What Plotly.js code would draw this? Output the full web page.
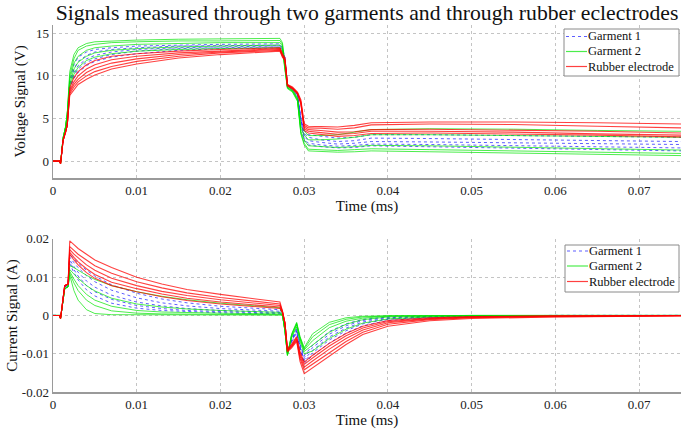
<!DOCTYPE html>
<html>
<head>
<meta charset="utf-8">
<script src="https://cdn.plot.ly/plotly-3.0.1.min.js"></script>
<style>html,body{margin:0;padding:0;background:#fff;}#chart{width:685px;height:433px;}</style>
</head>
<body>
<div id="chart"></div>
<script>
// ---------- DATA ----------
const seriesNames = ["Garment 1", "Garment 2", "Rubber electrode"];

// Voltage time base (ms axis units as in reference)
const tVoltage = [0, 0.0008, 0.0009, 0.0012, 0.0015, 0.0017, 0.002, 0.0025, 0.003, 0.004, 0.005, 0.007, 0.01, 0.015, 0.02, 0.0271,
  0.0274, 0.0277, 0.0280, 0.0286, 0.0292, 0.0296, 0.0300, 0.0305, 0.032, 0.034, 0.036, 0.038, 0.045, 0.055, 0.065, 0.075];

// Garment 1 voltage curves (V)
const vGarment1 = [
  [0,0,-0.3,2.5,3.6,4.6, 9.5,11.3,12.2,12.8,13.1,13.3,13.5,13.6,13.7,13.75, 13.3,12.2,8.9,8.5,7.8,5.0,3.6, 3.1, 2.9,2.7,2.8,3.1,3.1,3.0,2.9,2.8],
  [0,0,-0.3,2.5,3.6,4.6, 9.2,10.8,11.7,12.4,12.8,13.1,13.3,13.5,13.55,13.6, 13.2,12.1,8.9,8.5,7.8,5.0,3.3, 2.8, 2.5,2.3,2.4,2.7,2.65,2.55,2.45,2.3],
  [0,0,-0.3,2.5,3.6,4.6, 9.0,10.4,11.2,12.0,12.4,12.8,13.1,13.3,13.4,13.5, 13.1,12.0,8.8,8.4,7.7,4.9,2.9, 2.4, 2.2,2.0,2.1,2.3,2.25,2.15,2.05,1.95],
  [0,0,-0.3,2.5,3.6,4.6, 8.7,10.0,10.8,11.6,12.0,12.5,12.9,13.2,13.3,13.4, 13.0,11.9,8.8,8.4,7.7,4.8,2.6, 2.1, 1.9,1.75,1.85,2.0,1.95,1.8,1.7,1.55],
  [0,0,-0.3,2.5,3.6,4.6, 8.5,9.7,10.4,11.2,11.7,12.2,12.6,13.0,13.2,13.3, 12.9,11.8,8.7,8.3,7.6,4.7,2.4, 1.9, 1.7,1.55,1.6,1.8,1.7,1.5,1.35,1.2]
];

// Garment 2 voltage curves (V)
const vGarment2 = [
  [0,0,-0.3,2.7,4.0,5.5, 10.5,12.5,13.3,13.8,14.0,14.1,14.2,14.3,14.35,14.4, 13.9,11.0,8.8,8.4,7.4,4.0,3.6, 3.0, 3.0,3.1,3.4,3.7,3.8,3.75,3.6,3.5],
  [0,0,-0.3,2.7,4.0,5.5, 10.0,12.0,13.0,13.5,13.7,13.9,14.0,14.1,14.1,14.15, 13.7,11.0,8.7,8.3,7.3,3.8,3.1, 2.5, 2.5,2.6,2.8,3.1,3.1,3.0,2.9,2.8],
  [0,0,-0.3,2.7,4.0,5.5, 9.5,11.5,12.3,13.0,13.3,13.5,13.7,13.8,13.9,13.9, 13.5,10.9,8.6,8.2,7.2,3.5,2.5, 1.8, 1.7,1.6,1.7,1.85,1.8,1.65,1.5,1.3],
  [0,0,-0.3,2.7,4.0,5.5, 9.0,10.8,11.6,12.3,12.7,13.0,13.2,13.4,13.5,13.6, 13.2,10.8,8.6,8.2,7.1,3.3,2.1, 1.4, 1.3,1.25,1.35,1.45,1.35,1.2,1.05,0.9],
  [0,0,-0.3,2.7,4.0,5.5, 8.7,10.2,11.0,11.8,12.2,12.6,12.9,13.1,13.2,13.3, 12.9,10.7,8.5,8.1,7.0,3.2,1.9, 1.2, 1.1,1.05,1.1,1.2,1.1,0.95,0.8,0.65]
];

// Rubber electrode voltage curves (V)
const vRubber = [
  [0,0,-0.3,2.4,3.4,4.2, 8.6,9.8,10.5,11.3,11.8,12.3,12.6,12.9,13.1,13.3, 12.6,12.1,9.0,8.7,8.1,7.2,4.4, 4.1, 4.05,4.0,4.2,4.5,4.6,4.6,4.5,4.35],
  [0,0,-0.3,2.4,3.4,4.2, 8.3,9.3,10.0,10.8,11.3,11.9,12.3,12.7,12.9,13.2, 12.5,12.0,9.0,8.6,8.0,7.0,4.2, 3.9, 3.85,3.75,3.9,4.25,4.35,4.3,4.1,3.9],
  [0,0,-0.3,2.4,3.4,4.2, 8.1,9.0,9.6,10.4,10.9,11.5,12.0,12.5,12.8,13.1, 12.4,11.9,8.9,8.6,8.0,6.9,4.0, 3.7, 3.6,3.4,3.45,3.7,3.75,3.65,3.5,3.3],
  [0,0,-0.3,2.4,3.4,4.2, 7.9,8.7,9.3,10.0,10.5,11.1,11.7,12.3,12.7,13.0, 12.3,11.8,8.9,8.5,7.9,6.8,3.8, 3.5, 3.35,3.15,3.25,3.5,3.5,3.4,3.2,3.05],
  [0,0,-0.3,2.4,3.4,4.2, 7.7,8.4,9.0,9.6,10.1,10.8,11.4,12.1,12.5,12.9, 12.2,11.8,8.8,8.5,7.9,6.7,3.6, 3.3, 3.15,2.9,3.0,3.25,3.3,3.2,3.05,2.85]
];

// Current time base
const tCurrent = [0, 0.0008, 0.0009, 0.0012, 0.0014, 0.0018, 0.0020, 0.0025, 0.003, 0.004, 0.005, 0.007, 0.01, 0.013, 0.016, 0.02, 0.0271,
  0.0274, 0.0277, 0.0280, 0.0285, 0.0291, 0.0295, 0.0300, 0.031, 0.033, 0.035, 0.037, 0.04, 0.045, 0.05, 0.06, 0.075];

// Garment 1 current curves (A)
const iGarment1 = [
  [0,0,-0.0008,0.005,0.0075,0.008, 0.0160, 0.0148,0.0137,0.0118,0.0103,0.0080,0.0058,0.0043,0.0033,0.0024,0.0015, 0.0005,-0.003,-0.0095,-0.0070,-0.0045,-0.0088, -0.0125,-0.0105,-0.0072,-0.0046,-0.0027,-0.0013,-0.0006,-0.0003,-0.0001,0],
  [0,0,-0.0008,0.005,0.0075,0.008, 0.0152, 0.0138,0.0125,0.0104,0.0088,0.0066,0.0046,0.0033,0.0025,0.0018,0.0011, 0.0004,-0.003,-0.0095,-0.0068,-0.0042,-0.0085, -0.0120,-0.0098,-0.0064,-0.0040,-0.0022,-0.0010,-0.0005,-0.0002,-0.0001,0],
  [0,0,-0.0008,0.005,0.0075,0.008, 0.0145, 0.0128,0.0113,0.0090,0.0074,0.0053,0.0035,0.0025,0.0018,0.0013,0.0008, 0.0004,-0.003,-0.0096,-0.0066,-0.0040,-0.0082, -0.0115,-0.0091,-0.0056,-0.0033,-0.0017,-0.0008,-0.0004,-0.0001,0,0],
  [0,0,-0.0008,0.005,0.0075,0.008, 0.0140, 0.0120,0.0103,0.0078,0.0062,0.0042,0.0026,0.0018,0.0013,0.0010,0.0006, 0.0003,-0.003,-0.0097,-0.0064,-0.0037,-0.0078, -0.0110,-0.0084,-0.0049,-0.0027,-0.0013,-0.0006,-0.0002,-0.0001,0,0],
  [0,0,-0.0008,0.005,0.0075,0.008, 0.0135, 0.0112,0.0093,0.0067,0.0051,0.0032,0.0019,0.0013,0.0010,0.0007,0.0004, 0.0002,-0.003,-0.0098,-0.0062,-0.0035,-0.0075, -0.0105,-0.0078,-0.0042,-0.0022,-0.0010,-0.0004,-0.0002,-0.0001,0,0]
];

// Garment 2 current curves (A)
const iGarment2 = [
  [0,0,-0.0008,0.004,0.007,0.0075, 0.0130, 0.0125,0.0118,0.0105,0.0094,0.0078,0.0062,0.0050,0.0041,0.0032,0.0020, 0.0003,-0.004,-0.0100,-0.0058,-0.0030,-0.0068, -0.0100,-0.0093,-0.0060,-0.0036,-0.0020,-0.0009,-0.0004,-0.0002,-0.0001,0],
  [0,0,-0.0008,0.004,0.007,0.0075, 0.0120, 0.0108,0.0097,0.0078,0.0064,0.0045,0.0030,0.0022,0.0017,0.0013,0.0008, 0.0002,-0.004,-0.0102,-0.0055,-0.0025,-0.0062, -0.0094,-0.0078,-0.0044,-0.0023,-0.0011,-0.0004,-0.0002,-0.0001,0,0],
  [0,0,-0.0008,0.004,0.007,0.0075, 0.0115, 0.0095,0.0078,0.0055,0.0040,0.0024,0.0013,0.0009,0.0007,0.0006,0.0004, 0.0002,-0.004,-0.0103,-0.0052,-0.0022,-0.0060, -0.0090,-0.0066,-0.0032,-0.0015,-0.0007,-0.0002,-0.0001,0,0,0],
  [0,0,-0.0008,0.004,0.007,0.0075, 0.0110, 0.0085,0.0065,0.0040,0.0026,0.0012,0.0006,0.0004,0.0003,0.0003,0.0002, 0.0001,-0.004,-0.0104,-0.0050,-0.0020,-0.0057, -0.0087,-0.0056,-0.0024,-0.0010,-0.0004,-0.0001,0,0,0,0],
  [0,0,-0.0008,0.004,0.007,0.0075, 0.0105, 0.0065,0.0040,0.0015,0.0005,0.0002,0.0002,0.0002,0.0001,0.0001,0.0001, 0.0001,-0.004,-0.0105,-0.0048,-0.0018,-0.0055, -0.0084,-0.0048,-0.0018,-0.0006,-0.0002,-0.0001,0,0,0,0]
];

// Rubber electrode current curves (A)
const iRubber = [
  [0,0,-0.0008,0.005,0.0078,0.0082, 0.0195, 0.0185,0.0175,0.0160,0.0145,0.0125,0.0100,0.0082,0.0068,0.0055,0.0035, 0.0012,-0.002,-0.0095,-0.0085,-0.0068,-0.0120, -0.0152,-0.0137,-0.0106,-0.0076,-0.0050,-0.0028,-0.0014,-0.0008,-0.0004,-0.0001],
  [0,0,-0.0008,0.005,0.0078,0.0082, 0.0180, 0.0170,0.0160,0.0145,0.0130,0.0110,0.0088,0.0072,0.0059,0.0047,0.0030, 0.0011,-0.002,-0.0093,-0.0082,-0.0065,-0.0112, -0.0142,-0.0127,-0.0097,-0.0068,-0.0044,-0.0023,-0.0011,-0.0006,-0.0003,-0.0001],
  [0,0,-0.0008,0.005,0.0078,0.0082, 0.0172, 0.0160,0.0150,0.0132,0.0118,0.0097,0.0078,0.0063,0.0052,0.0041,0.0026, 0.0010,-0.002,-0.0091,-0.0080,-0.0062,-0.0106, -0.0135,-0.0119,-0.0088,-0.0060,-0.0038,-0.0019,-0.0009,-0.0005,-0.0002,0],
  [0,0,-0.0008,0.005,0.0078,0.0082, 0.0165, 0.0152,0.0140,0.0122,0.0107,0.0087,0.0070,0.0056,0.0045,0.0035,0.0022, 0.0009,-0.002,-0.0090,-0.0078,-0.0058,-0.0100, -0.0128,-0.0111,-0.0080,-0.0053,-0.0033,-0.0016,-0.0008,-0.0004,-0.0001,0],
  [0,0,-0.0008,0.005,0.0078,0.0082, 0.0160, 0.0145,0.0132,0.0112,0.0097,0.0078,0.0062,0.0049,0.0039,0.0030,0.0018, 0.0008,-0.002,-0.0088,-0.0075,-0.0055,-0.0095, -0.0122,-0.0104,-0.0073,-0.0047,-0.0028,-0.0013,-0.0006,-0.0003,-0.0001,0]
];

const xTickVals = [0, 0.01, 0.02, 0.03, 0.04, 0.05, 0.06, 0.07];
const xTickText = ["0", "0.01", "0.02", "0.03", "0.04", "0.05", "0.06", "0.07"];
const vTickVals = [0, 5, 10, 15];
const vTickText = ["0", "5", "10", "15"];
const iTickVals = [-0.02, -0.01, 0, 0.01, 0.02];
const iTickText = ["-0.02", "-0.01", "0", "0.01", "0.02"];

// ---------- STYLE ----------
const FONT = "Liberation Serif";
const W = 685, H = 433;
const M = {l: 53, r: 4, t: 24, b: 41};
const styles = [
  {color: "rgba(40,40,255,0.75)", dash: "dot", width: 1},
  {color: "rgba(0,230,0,0.7)", dash: "solid", width: 1},
  {color: "rgba(255,0,0,0.75)", dash: "solid", width: 1.1}
];

const traces = [];
function addGroup(t, curves, gi, xa, ya) {
  curves.forEach((y) => {
    traces.push({
      x: t, y: y, type: "scatter", mode: "lines",
      xaxis: xa, yaxis: ya, name: seriesNames[gi],
      showlegend: false, line: styles[gi], hoverinfo: "skip"
    });
  });
}
addGroup(tVoltage, vGarment1, 0, "x2", "y2");
addGroup(tVoltage, vGarment2, 1, "x2", "y2");
addGroup(tVoltage, vRubber, 2, "x2", "y2");
addGroup(tCurrent, iGarment1, 0, "x", "y");
addGroup(tCurrent, iGarment2, 1, "x", "y");
addGroup(tCurrent, iRubber, 2, "x", "y");

// ---------- legend boxes (drawn as shapes + annotations, pixel placed) ----------
const pw = W - M.l - M.r, ph = H - M.t - M.b;
const px = (p) => (p - M.l) / pw;
const py = (p) => 1 - (p - M.t) / ph;
const shapes = [], annotations = [];
function legendBox(x0, y0, x1, y1, rows) {
  shapes.push({type: "rect", xref: "paper", yref: "paper", x0: px(x0), x1: px(x1), y0: py(y1), y1: py(y0),
               line: {color: "#8a8a8a", width: 1}, fillcolor: "#ffffff", layer: "above"});
  rows.forEach((ry, i) => {
    shapes.push({type: "line", xref: "paper", yref: "paper", x0: px(x0 + 2), x1: px(x0 + 23), y0: py(ry), y1: py(ry),
                 line: {color: styles[i].color, dash: styles[i].dash, width: 1.2}, layer: "above"});
    annotations.push({xref: "paper", yref: "paper", x: px(x0 + 22), y: py(ry), xanchor: "left", yanchor: "middle",
                      text: seriesNames[i], showarrow: false, font: {family: FONT, size: 12.5, color: "#111"}});
  });
}
legendBox(564, 29, 679, 76, [36.5, 51.5, 66.5]);
legendBox(565, 245, 679, 292, [251, 266, 281.5]);

function ax(extra) {
  return Object.assign({
    showgrid: true, gridcolor: "#c4c4c4", griddash: "dot", gridwidth: 1,
    zeroline: false, showline: true, linecolor: "#9a9a9a", linewidth: 1.5,
    mirror: false, ticks: "", tickfont: {family: FONT, size: 13, color: "#222"}
  }, extra);
}

const layout = {
  width: W, height: H,
  font: {family: FONT, size: 12, color: "#111"},
  margin: M,
  paper_bgcolor: "#fff", plot_bgcolor: "#fff",
  showlegend: false,
  shapes: shapes, annotations: annotations,
  title: {text: "Signals measured through two garments and through rubber eclectrodes",
          font: {family: FONT, size: 21.7, color: "#111"}, xref: "paper", x: 0.5, xanchor: "center", y: 0.99, yanchor: "top"},
  xaxis: ax({domain: [0, 1], anchor: "y", range: [0, 0.075], tickvals: xTickVals, ticktext: xTickText,
          title: {text: "Time (ms)", font: {family: FONT, size: 15, color: "#111"}, standoff: 0}}),
  yaxis: ax({domain: [0, 0.416], anchor: "x", range: [-0.02, 0.02], tickvals: iTickVals, ticktext: iTickText,
          title: {text: "Current Signal (A)", font: {family: FONT, size: 15, color: "#111"}, standoff: 0}}),
  xaxis2: ax({domain: [0, 1], anchor: "y2", range: [0, 0.075], tickvals: xTickVals, ticktext: xTickText,
          title: {text: "Time (ms)", font: {family: FONT, size: 15, color: "#111"}, standoff: 0}}),
  yaxis2: ax({domain: [0.581, 0.998], anchor: "x2", range: [-2, 16], tickvals: vTickVals, ticktext: vTickText,
          title: {text: "Voltage Signal (V)", font: {family: FONT, size: 15, color: "#111"}, standoff: 6}})
};

Plotly.newPlot("chart", traces, layout, {displayModeBar: false, staticPlot: true});
</script>
</body>
</html>
